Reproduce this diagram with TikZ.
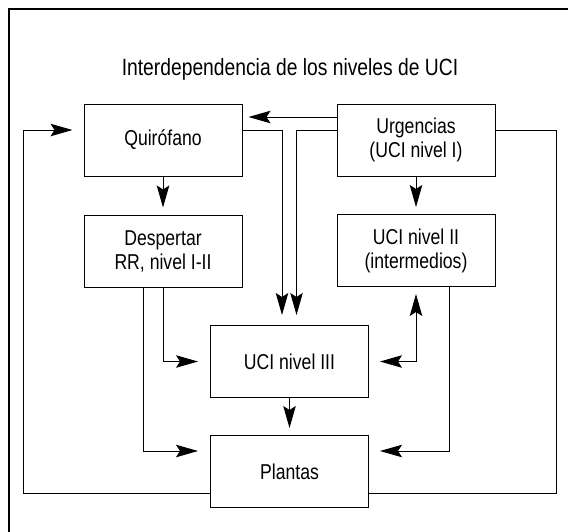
\documentclass[tikz,border=0pt]{standalone}
\usepackage{fontspec}
\setmainfont{Liberation Sans}[FakeStretch=0.82]
\usetikzlibrary{arrows.meta}
\begin{document}
\begin{tikzpicture}[x=1pt,y=-1pt,
  box/.style={draw, line width=1pt, fill=white, minimum width=158pt, minimum height=72pt,
    inner sep=0pt, align=center, font=\fontsize{21.5}{24}\selectfont},
  line/.style={line width=1pt},
  tip/.tip={Stealth[length=22pt,width=12.5pt,inset=4pt]},
  conn/.style={line width=1pt, -tip},
  both/.style={line width=1pt, tip-tip}
]
\useasboundingbox (0,0) rectangle (568,531);
\clip (0,0) rectangle (568,531);
\fill[white] (0,0) rectangle (568,531);
\draw[line width=2pt] (9,9) rectangle (600,600);

\node[anchor=base, font=\fontsize{23.5}{26}\selectfont] (title) at (290,75) {Interdependencia de los niveles de UCI};

\node[box] (q) at (163,140) {Quirófano};
\node[box] (d) at (163,251) {Despertar\\RR, nivel I-II};
\node[box] (u) at (416,140) {Urgencias\\(UCI nivel I)};
\node[box] (u2) at (416,250.5) {UCI nivel II\\(intermedios)};
\node[box] (u3) at (289.5,361.5) {UCI nivel III};
\node[box] (p) at (289.5,471.5) {Plantas};

% vertical arrows
\draw[conn, shorten >=7pt] (q) -- (d);
\draw[conn, shorten >=7pt] (u) -- (u2);
\draw[conn, shorten >=7pt] (u3) -- (p);

% outer loop
\draw[line] ([yshift=10pt]u.east) -| (556,493) -- (p.east |- 0,493);
\draw[conn, shorten >=11pt] (p.west |- 0,493) -| (23,130) -- ([yshift=10pt]q.west);

% Urgencias -> Quirofano
\draw[conn, shorten >=6pt] ([yshift=23pt]u.west) -- ([yshift=23pt]q.east);

% into UCI III from top
\draw[conn, shorten >=10pt] ([yshift=10pt]q.east) -| ([xshift=-7.5pt]u3.north);
\draw[conn, shorten >=10pt] ([yshift=10pt]u.west) -| ([xshift=7pt]u3.north);

% from Despertar
\draw[conn, shorten >=12pt] (d.south) |- (u3.west);
\draw[conn, shorten >=12pt] ([xshift=-20pt]d.south) |- ([yshift=20.5pt]p.west);

% UCI III <-> UCI II
\draw[both, shorten <=11pt, shorten >=7pt] (u3.east) -| (u2.south);

% UCI II -> Plantas
\draw[conn, shorten >=11pt] ([xshift=33pt]u2.south) |- ([yshift=20.5pt]p.east);
\end{tikzpicture}
\end{document}
